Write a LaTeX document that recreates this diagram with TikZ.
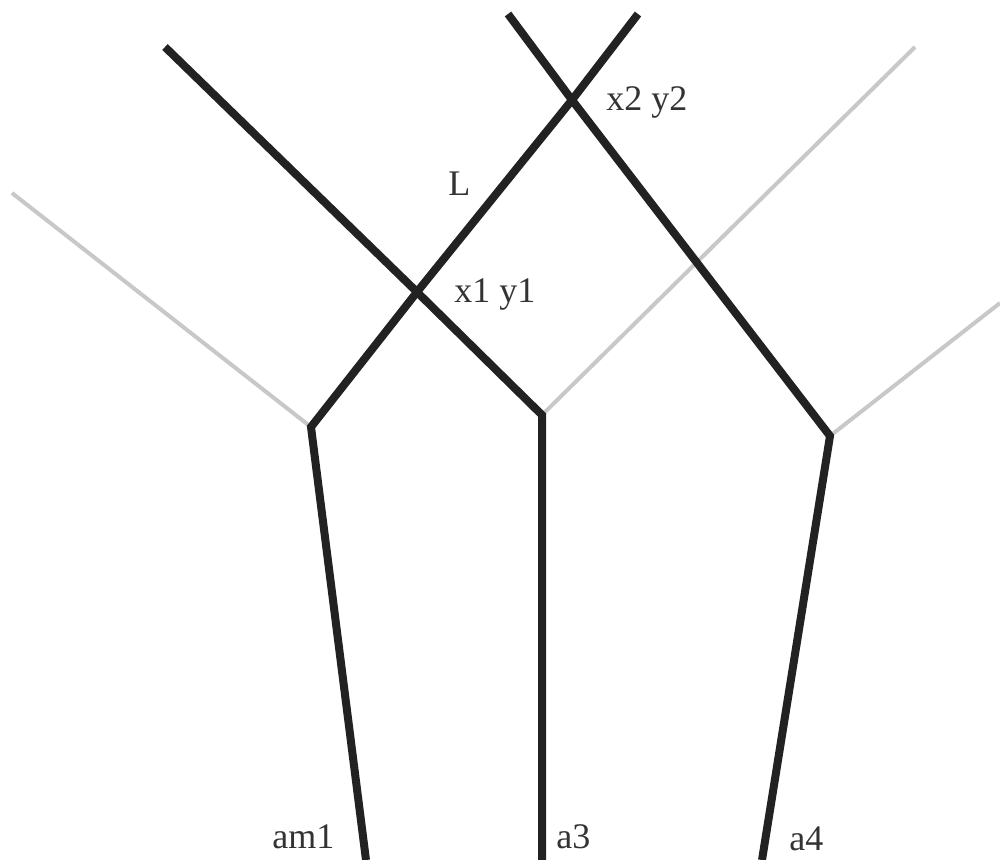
\documentclass[tikz,border=0pt]{standalone}
\usepackage{fontspec}
\setmainfont{Liberation Serif}
\definecolor{ink}{HTML}{222222}
\definecolor{faint}{HTML}{C8C8C8}
\definecolor{txt}{HTML}{333333}
\begin{document}
\begin{tikzpicture}[x=0.75pt,y=-0.75pt,
  blackline/.style={draw=ink,line width=6pt,line join=miter},
  grayline/.style={draw=faint,line width=3pt},
  lbl/.style={anchor=base west,inner sep=0pt,text=txt,font=\fontsize{27}{32}\selectfont}]
\useasboundingbox (0,0) rectangle (1000,860);
% key points
\coordinate (A) at (311,427);
\coordinate (B) at (542,415);
\coordinate (C) at (830,436);
\coordinate (P1) at (417,292);
\coordinate (P2) at (572,100);
\coordinate (T1) at (638,14);
\coordinate (T2) at (508,14);
\coordinate (T3) at (165,47);
\coordinate (G1) at (12,193);
\coordinate (G2) at (915,47);
\coordinate (G3) at (1000,303);
\coordinate (Ba) at (366,860);
\coordinate (Bb) at (542,860);
\coordinate (Bc) at (762,860);
% gray branches
\draw[grayline] (A) -- (G1);
\draw[grayline] (B) -- (G2);
\draw[grayline] (C) -- (G3);
% black polylines
\draw[blackline] (Ba) -- (A) -- (P1) -- (P2) -- (T1);
\draw[blackline] (Bb) -- (B) -- (P1) -- (T3);
\draw[blackline] (Bc) -- (C) -- (P2) -- (T2);
% labels
\node[lbl] (lL) at (448,195) {L};
\node[lbl] (l2) at (606,110) {x2 y2};
\node[lbl] (l1) at (454,302) {x1 y1};
\node[lbl] (lam1) at (272,848) {am1};
\node[lbl] (la3) at (556,848) {a3};
\node[lbl] (la4) at (789,850) {a4};
\end{tikzpicture}
\end{document}
